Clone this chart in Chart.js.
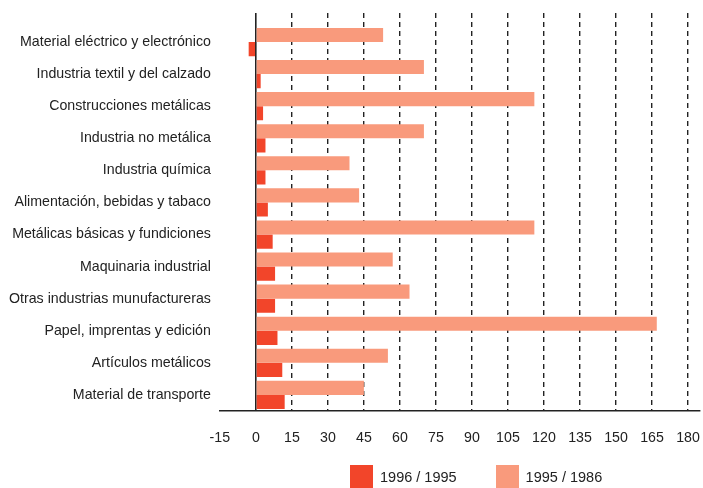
<!DOCTYPE html>
<html>
<head>
<meta charset="utf-8">
<script src="https://cdn.jsdelivr.net/npm/chart.js@4"></script>
<style>
  html, body { margin: 0; padding: 0; background: #fff; overflow: hidden; }
  #wrap { position: relative; width: 703px; height: 488px; }
  #legend { position: absolute; left: 350px; top: 465px; display: flex; font: 14.5px "Liberation Sans", Arial, sans-serif; color: #222; }
  #legend .item { display: flex; align-items: flex-start; margin-right: 39px; }
  #legend .box { width: 23px; height: 23px; margin-right: 7px; }
  #legend span { line-height: 16px; margin-top: 4px; }
</style>
</head>
<body>
<div id="wrap">
  <canvas id="chart" width="703" height="488"></canvas>
  <div id="legend"></div>
</div>
<script>
const categories = [
  'Material eléctrico y electrónico',
  'Industria textil y del calzado',
  'Construcciones metálicas',
  'Industria no metálica',
  'Industria química',
  'Alimentación, bebidas y tabaco',
  'Metálicas básicas y fundiciones',
  'Maquinaria industrial',
  'Otras industrias munufactureras',
  'Papel, imprentas y edición',
  'Artículos metálicos',
  'Material de transporte'
];
const series_labels = ['1996 / 1995', '1995 / 1986'];
const values_1995_1986 = [53, 70, 116, 70, 39, 43, 116, 57, 64, 167, 55, 45];
const values_1996_1995 = [-3, 2, 3, 4, 4, 5, 7, 8, 8, 9, 11, 12];
const tick_values = [-15, 0, 15, 30, 45, 60, 75, 90, 105, 120, 135, 150, 165, 180];
const colors = ['#f2452a', '#f99a7c'];

// push the bars down a bit so the grid starts above the first category
const shift_categories = {
  id: 'shift_categories',
  afterLayout(chart) {
    const y = chart.scales.y;
    y.top = chart.chartArea.top + 13;
    y.configure();
  }
};

const font = { family: '"Liberation Sans", Arial, sans-serif', size: 14.2 };

new Chart(document.getElementById('chart'), {
  type: 'bar',
  data: {
    labels: categories,
    datasets: [
      {
        label: series_labels[1],
        data: values_1995_1986,
        backgroundColor: colors[1],
        categoryPercentage: 0.88,
        barPercentage: 1.0
      },
      {
        label: series_labels[0],
        data: values_1996_1995,
        backgroundColor: colors[0],
        categoryPercentage: 0.88,
        barPercentage: 1.0
      }
    ]
  },
  options: {
    indexAxis: 'y',
    responsive: false,
    animation: false,
    layout: { padding: { left: 0, right: 3, top: 13, bottom: 22 } },
    plugins: {
      legend: { display: false },
      tooltip: { enabled: false }
    },
    scales: {
      x: {
        min: -15,
        max: 185,
        afterBuildTicks: (s) => { s.ticks = tick_values.map(v => ({ value: v })); },
        afterFit: (s) => { s.paddingLeft = 0; s.paddingRight = 0; },
        ticks: { color: '#222', font: font, padding: 19, maxRotation: 0 },
        grid: {
          drawTicks: false,
          lineWidth: (ctx) => ctx.tick && ctx.tick.value === 0 ? 1.6 : 1.4,
          color: (ctx) => ctx.tick && ctx.tick.value === -15 ? 'rgba(0,0,0,0)' : '#222'
        },
        border: {
          color: '#222',
          width: 1.6,
          dash: (ctx) => ctx.tick && ctx.tick.value !== 0 ? [5, 4] : []
        }
      },
      y: {
        afterFit: (s) => { s.paddingTop = 0; s.paddingBottom = 0; },
        ticks: { color: '#222', font: font, padding: 9 },
        grid: { display: false, drawTicks: false },
        border: { display: false }
      }
    }
  },
  plugins: [shift_categories]
});

const legend = document.getElementById('legend');
series_labels.forEach((name, i) => {
  const item = document.createElement('div');
  item.className = 'item';
  const box = document.createElement('div');
  box.className = 'box';
  box.style.background = colors[i];
  const txt = document.createElement('span');
  txt.textContent = name;
  item.appendChild(box);
  item.appendChild(txt);
  legend.appendChild(item);
});
</script>
</body>
</html>
